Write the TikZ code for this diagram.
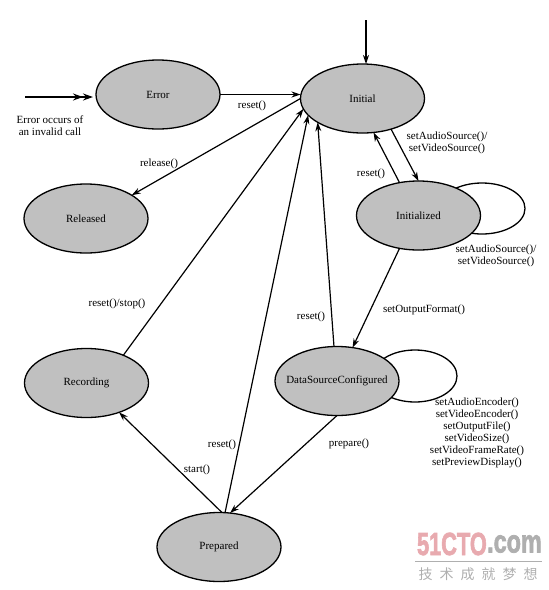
\documentclass[tikz,border=0pt]{standalone}
\usepackage{fontspec}
\setmainfont{Liberation Serif}
\newfontfamily\wmfont[BoldFeatures={FakeBold=2.5}]{Liberation Sans}
\newfontfamily\cjk[LetterSpace=50]{Noto Sans CJK SC}
\usetikzlibrary{arrows.meta,shapes.geometric}
\definecolor{stategray}{RGB}{192,192,192}
\definecolor{wmpink}{RGB}{232,170,175}
\definecolor{wmgray}{RGB}{175,175,175}
\tikzset{
  state/.style={ellipse,draw,line width=1.3pt,fill=stategray,minimum width=124pt,minimum height=69pt,inner xsep=-20pt,inner ysep=0pt,outer sep=0pt,font=\fontsize{11}{12}\selectfont},
  selfloop/.style={ellipse,draw,line width=1.3pt,fill=white,minimum width=86pt,minimum height=51pt,inner sep=0pt},
  trans/.style={line width=1.2pt,-{Stealth[length=9pt,width=6pt]}},
  lbl/.style={font=\fontsize{11}{12}\selectfont,align=center,inner sep=0pt}
}
\begin{document}
\begin{tikzpicture}[x=1pt,y=-1pt]
  \useasboundingbox (0,0) rectangle (549,590);
  \node[selfloop] (initializedloop) at (482,208.5) {};
  \node[selfloop,minimum width=84pt,minimum height=52pt] (configuredloop) at (415,376) {};

  \node[state] (error) at (158,94.5) {Error\hspace{8pt}};
  \node[state] (released) at (86,218.5) {Released};
  \node[state] (initial) at (362.5,98.5) {Initial\hspace{8pt}};
  \node[state] (initialized) at (418.5,215.5) {Initialized\hspace{8pt}};
  \node[state] (configured) at (337,381) {DataSourceConfigured};
  \node[state] (recording) at (86.5,383) {Recording};
  \node[state] (prepared) at (219,547) {Prepared};

  \coordinate (errorstart) at (25,97);
  \coordinate (initialstart) at (366,20);

  \draw[line width=2pt,-{Stealth[length=10pt,width=7pt]Stealth[length=10pt,width=7pt]},shorten >=3pt] (errorstart) -- (errorstart -| error.west);
  \draw[trans] (initialstart) -- (initialstart |- initial.north);
  \draw[trans] (error.east) -- (error.east -| initial.west);
  \draw[trans] (initial.west) -- (released.27);
  \draw[trans] (recording.37) -- (initial.190);
  \draw[trans] (prepared.80) -- (initial.197);
  \draw[trans] (configured.95) -- (initial.208);
  \draw[trans] (initial.-47) -- (initialized.north);
  \draw[trans] (initialized.120) -- (initial.-72);
  \draw[trans] (initialized.240) -- (configured.65);
  \draw[trans] (configured.south) -- (prepared.72);
  \draw[trans] (prepared.85) -- (recording.-42);

  \node[lbl] (errorlabel) at (50,126) {Error occurs of\\an invalid call};
  \node[lbl] (resetfromerror) at (252,105.5) {reset()};
  \node[lbl] (releaselabel) at (159,164) {release()};
  \node[lbl] (sourcelabel) at (447,143) {setAudioSource()/\\setVideoSource()};
  \node[lbl] (resetfrominitialized) at (371,174) {reset()};
  \node[lbl] (sourceloop) at (496,256) {setAudioSource()/\\setVideoSource()};
  \node[lbl] (formatlabel) at (424,310) {setOutputFormat()};
  \node[lbl] (resetfromconfigured) at (311,317) {reset()};
  \node[lbl] (configuredlabel) at (477,432.5) {setAudioEncoder()\\setVideoEncoder()\\setOutputFile()\\setVideoSize()\\setVideoFrameRate()\\setPreviewDisplay()};
  \node[lbl] (preparelabel) at (349,444) {prepare()};
  \node[lbl] (stoplabel) at (117,304) {reset()/stop()};
  \node[lbl] (resetfromprepared) at (222,445) {reset()};
  \node[lbl] (startlabel) at (197,470) {start()};

  \node[inner sep=0pt,font=\wmfont\bfseries\fontsize{32}{32}\selectfont,text=wmpink,anchor=east] (logoleft) at (487,544) {\scalebox{.68}[1]{51CTO}};
  \node[inner sep=0pt,font=\wmfont\bfseries\fontsize{32}{32}\selectfont,text=wmgray,anchor=west] (logoright) at (487,544) {\scalebox{.73}[1]{.com}};
  \draw[wmgray,line width=.8pt] (415,561) -- (542,561);
  \node[inner sep=0pt,font=\cjk\fontsize{14}{14}\selectfont,text=wmgray] (logotext) at (478,574) {技术成就梦想};
\end{tikzpicture}
\end{document}
